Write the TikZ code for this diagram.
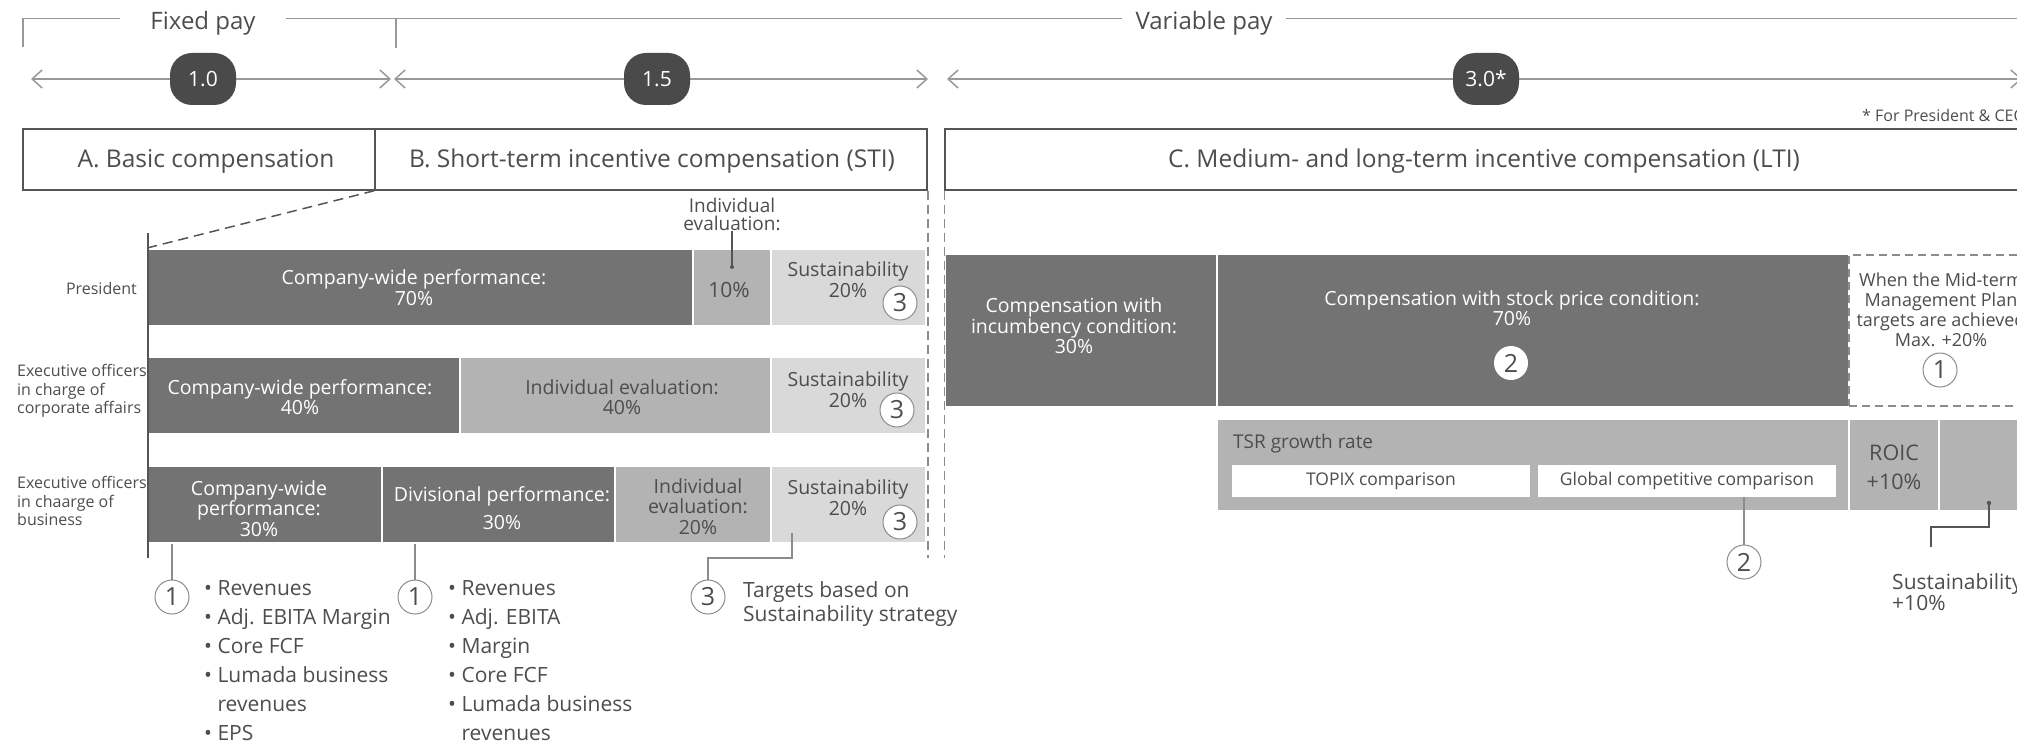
\documentclass[tikz,border=0pt]{standalone}
\usepackage{fontspec}
\setmainfont{Open Sans}
\usetikzlibrary{arrows.meta}
\newcommand\myfs[2]{\fontsize{#1}{#2}\selectfont}
\definecolor{dk}{HTML}{737373}
\definecolor{md}{HTML}{B3B3B3}
\definecolor{lt}{HTML}{D9D9D9}
\definecolor{pillc}{HTML}{4A4A4A}
\definecolor{txt}{HTML}{4D4D4D}
\definecolor{ln}{HTML}{555555}
\definecolor{lg}{HTML}{8C8C8C}
\definecolor{arrc}{HTML}{999999}
\begin{document}
\begin{tikzpicture}[x=1pt,y=-1pt,
  seg/.style={draw=white, line width=2pt, inner sep=0pt, minimum height=77pt},
  wtxt/.style={text=white, align=center, inner sep=0pt, font=\myfs{19.5pt}{20.5pt}},
  gtxt/.style={text=txt, align=center, inner sep=0pt, font=\myfs{19.5pt}{20.5pt}},
  hbox/.style={draw=ln, line width=1.5pt, minimum height=61pt, inner sep=0pt},
  htxt/.style={text=txt, inner sep=0pt, font=\myfs{24.5pt}{30pt}},
  lab/.style={text=txt, inner sep=0pt, font=\myfs{16pt}{18.5pt}},
  num/.style={circle, draw=lg, line width=1pt, fill=white, minimum size=34pt, inner sep=0pt, text=txt, font=\myfs{25pt}{25pt}},
  pillnode/.style={fill=pillc, rounded corners=22pt, minimum width=66pt, minimum height=52pt, text=white, font=\myfs{21pt}{21pt}, inner sep=0pt},
  arr/.style={draw=arrc, line width=2.5pt, arrows={Straight Barb[length=10pt,width=18pt,line width=1.5pt]-Straight Barb[length=10pt,width=18pt,line width=1.5pt]}},
  brk/.style={draw=arrc, line width=1.5pt},
  dsh/.style={draw=ln, line width=1.5pt, dash pattern=on 10pt off 6pt},
  vdsh/.style={draw=lg, line width=1.5pt, dash pattern=on 9pt off 5pt},
  axln/.style={draw=ln, line width=1.5pt},
  con/.style={draw=lg, line width=1.2pt},
  dcon/.style={draw=ln, line width=1.4pt},
]
\useasboundingbox (0,0) rectangle (2017,743);
\clip (0,0) rectangle (2017,743);

% ---------- top bracket ----------
\coordinate (brk0) at (0,18.5);
\node[htxt, font=\myfs{24pt}{24pt}, inner xsep=30pt] (fixed) at (203,23.5) {Fixed pay};
\node[htxt, font=\myfs{24pt}{24pt}, inner xsep=13pt] (varp) at (1204,23.5) {Variable pay};
\coordinate (bl0) at (23,47);
\coordinate (bl1) at (23,18.5);
\coordinate (bm0) at (396,18.5);
\coordinate (bm1) at (396,48);
\coordinate (br1) at (2030,18.5);
\draw[brk] (bl0) -- (bl1) -- (fixed.west |- brk0);
\draw[brk] (fixed.east |- brk0) -- (varp.west |- brk0);
\draw[brk] (varp.east |- brk0) -- (br1);
\draw[brk] (bm0) -- (bm1);

% ---------- arrows ----------
\coordinate (a1l) at (31,79);
\coordinate (a1r) at (391,79);
\coordinate (a2l) at (394,79);
\coordinate (a2r) at (928,79);
\coordinate (a3l) at (947,79);
\coordinate (a3r) at (2022,79);
\draw[arr] (a1l) -- (a1r);
\draw[arr] (a2l) -- (a2r);
\draw[arr] (a3l) -- (a3r);
\node[pillnode] (p10) at (203,79) {1.0};
\node[pillnode] (p15) at (657,79) {1.5};
\node[pillnode] (p30) at (1486,79) {3.0*};
\node[lab, anchor=west] (fn) at (1862,116) {* For President \& CEO};

% ---------- header boxes ----------
\node[hbox, minimum width=352pt] (A) at (199,159.5) {};
\node[hbox, minimum width=552pt] (B) at (651,159.5) {};
\node[hbox, minimum width=1085pt] (C) at (1487.5,159.5) {};
\node[htxt] (At) at (206,161) {A. Basic compensation};
\node[htxt] (Bt) at (652,161) {B. Short-term incentive compensation (STI)};
\node[htxt] (Ct) at (1484,161) {C. Medium- and long-term incentive compensation (LTI)};

% ---------- STI bars ----------
\node[seg, fill=dk, minimum width=545pt] (p1) at (420.5,287.5) {};
\node[seg, fill=md, minimum width=78pt] (p2) at (732,287.5) {};
\node[seg, fill=lt, minimum width=155pt] (p3) at (848.5,287.5) {};
\node[seg, fill=dk, minimum width=312pt] (c1) at (304,395.5) {};
\node[seg, fill=md, minimum width=311pt] (c2) at (615.5,395.5) {};
\node[seg, fill=lt, minimum width=155pt] (c3) at (848.5,395.5) {};
\node[seg, fill=dk, minimum width=234pt] (b1) at (265,504.5) {};
\node[seg, fill=dk, minimum width=233pt] (b2) at (498.5,504.5) {};
\node[seg, fill=md, minimum width=156pt] (b3) at (693,504.5) {};
\node[seg, fill=lt, minimum width=155pt] (b4) at (848.5,504.5) {};

\node[wtxt] (tp1) at (414,287.5) {Company-wide performance:\\70\%};
\node[gtxt, font=\myfs{21pt}{21pt}] (tp2) at (729,290) {10\%};
\node[gtxt] (tp3) at (848,279.5) {Sustainability\\20\%};
\node[wtxt] (tc1) at (300,397) {Company-wide performance:\\40\%};
\node[gtxt] (tc2) at (622,397) {Individual evaluation:\\40\%};
\node[gtxt] (tc3) at (848,389.5) {Sustainability\\20\%};
\node[wtxt] (tb1) at (259,508.5) {Company-wide\\performance:\\30\%};
\node[wtxt] (tb2) at (502,508) {Divisional performance:\\[7pt]30\%};
\node[gtxt] (tb3) at (698,506.5) {Individual\\evaluation:\\20\%};
\node[gtxt] (tb4) at (848,497.5) {Sustainability\\20\%};
\node[gtxt, font=\myfs{19pt}{17.5pt}] (ivlab) at (732,214.5) {Individual\\evaluation:};
\coordinate (ivdot) at (732,267);
\draw[dcon] (ivlab) -- (ivdot);
\fill[ln] (ivdot) circle (2pt);

\node[num] (n3a) at (900,303) {3};
\node[num] (n3b) at (897,410) {3};
\node[num] (n3c) at (900,522) {3};

% row labels
\node[lab, anchor=east] (rl1) at (137,288) {President};
\node[lab, anchor=west, align=left] (rl2) at (17,391) {Executive officers\\in charge of\\corporate affairs};
\node[lab, anchor=west, align=left] (rl3) at (17,501) {Executive officers\\in chaarge of\\business};

% axis and dashed guide
\coordinate (axtop) at (148,233);
\coordinate (axbot) at (148,558);
\draw[axln] (axtop) -- (axbot);
\draw[dsh] (B.south west) -- (p1.north west);

% ---------- LTI ----------
\node[seg, fill=dk, minimum width=272pt, minimum height=153pt] (l1) at (1081,330.5) {};
\node[seg, fill=dk, minimum width=632pt, minimum height=153pt] (l2) at (1533,330.5) {};
\node[draw=lg, line width=1.5pt, dash pattern=on 8pt off 5pt, fill=white, minimum width=184pt, minimum height=151pt, inner sep=0pt] (l3) at (1941,330.5) {};
\node[wtxt] (tl1) at (1074,326) {Compensation with\\incumbency condition:\\30\%};
\node[wtxt] (tl2) at (1512,308) {Compensation with stock price condition:\\70\%};
\node[num, draw=none] (n2a) at (1511,363) {2};
\node[gtxt, font=\myfs{18pt}{20pt}] (tl3) at (1941,310) {When the Mid-term\\Management Plan\\targets are achieved\\Max. +20\%};
\node[num] (n1a) at (1940,370) {1};

\node[seg, fill=md, minimum width=632pt, minimum height=92pt] (t1) at (1533,465) {};
\node[seg, fill=md, minimum width=90pt, minimum height=92pt] (r1) at (1894,465) {};
\node[seg, fill=md, minimum width=102pt, minimum height=92pt] (s1) at (1990,465) {};
\node[gtxt, anchor=west, font=\myfs{19pt}{19pt}] (tsr) at (1233,444) {TSR growth rate};
\node[fill=white, minimum width=298pt, minimum height=32pt, inner sep=0pt, text=txt, font=\myfs{17.5pt}{17.5pt}] (w1) at (1381,481) {TOPIX comparison};
\node[fill=white, minimum width=298pt, minimum height=32pt, inner sep=0pt, text=txt, font=\myfs{17.5pt}{17.5pt}] (w2) at (1687,481) {Global competitive comparison};
\node[gtxt, font=\myfs{21.5pt}{29pt}] (roic) at (1894,467.5) {ROIC\\+10\%};

\node[num] (n2b) at (1744,562) {2};
\draw[con] (n2b) -- (n2b |- w2.south);
\coordinate (sdot) at (1989,503);
\coordinate (send) at (1931,547);
\draw[dcon] (sdot) -- ++(0,24) -| (send);
\fill[ln] (sdot) circle (2.2pt);
\node[gtxt, anchor=west, align=left, font=\myfs{21pt}{21pt}] (stxt) at (1892,592.5) {Sustainability\\+10\%};

% vertical dashed guides
\draw[vdsh] (B.south east) -- (B.south east |- axbot);
\draw[vdsh] (C.south west) -- (C.south west |- axbot);

% ---------- bottom notes ----------
\node[num] (n1b) at (172,597) {1};
\node[num] (n1c) at (415,597) {1};
\node[num] (n3d) at (708,597) {3};
\draw[con] (n1b) -- (n1b |- b1.south);
\draw[con] (n1c) -- (n1c |- b2.south);
\coordinate (s3start) at (792,533);
\draw[con] (s3start) -- ++(0,25) -| (n3d);

\node[gtxt, anchor=west, align=left, font=\myfs{21pt}{29pt}] (list1) at (204,661) {• Revenues\\• Adj. EBITA Margin\\• Core FCF\\• Lumada business\\\phantom{• }revenues\\• EPS};
\node[gtxt, anchor=west, align=left, font=\myfs{21pt}{29pt}] (list2) at (448,661) {• Revenues\\• Adj. EBITA\\• Margin\\• Core FCF\\• Lumada business\\\phantom{• }revenues};
\node[gtxt, anchor=west, align=left, font=\myfs{21pt}{24pt}] (tgt) at (743,604) {Targets based on\\Sustainability strategy};
\end{tikzpicture}
\end{document}
